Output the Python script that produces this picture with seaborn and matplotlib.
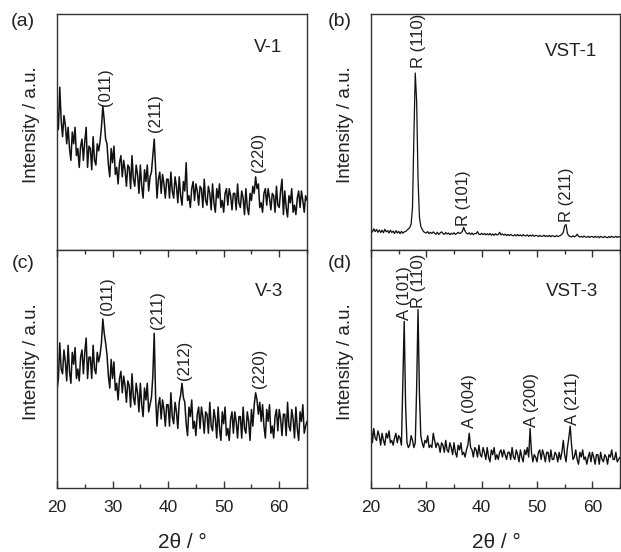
import numpy as np
import matplotlib.pyplot as plt
import seaborn as sns

# XRD scan grid (2theta, degrees), 0.25 deg step
two_theta = np.arange(20, 65.001, 0.25)

# intensities (arbitrary units, 0-100 per panel)
v1 = [
    60, 51, 69, 55, 48, 57, 53, 45, 52, 43, 38, 50, 45, 52, 40, 43,
    35, 44, 47, 38, 46, 52, 35, 44, 43, 34, 48, 38, 36, 45, 42, 46,
    52, 61, 55, 47, 45, 36, 31, 43, 37, 44, 32, 35, 28, 37, 40, 31,
    38, 34, 27, 36, 35, 26, 40, 30, 27, 36, 32, 24, 36, 27, 22, 34,
    29, 36, 25, 31, 33, 40, 47, 34, 22, 30, 33, 24, 32, 28, 22, 30,
    30, 22, 33, 25, 22, 31, 27, 20, 31, 23, 19, 29, 25, 37, 21, 23,
    18, 26, 29, 21, 28, 25, 19, 27, 26, 18, 30, 21, 19, 27, 24, 17,
    28, 20, 16, 26, 22, 28, 18, 21, 16, 24, 26, 19, 26, 23, 17, 24,
    24, 17, 28, 20, 18, 25, 22, 15, 26, 18, 15, 24, 21, 27, 24, 31,
    26, 28, 18, 20, 16, 24, 26, 19, 26, 22, 17, 24, 23, 16, 27, 19,
    18, 25, 30, 15, 25, 18, 14, 23, 20, 26, 16, 19, 15, 22, 25, 18,
    25, 21, 16, 23, 21,
]
vst1 = [
    8.6, 7.6, 9.0, 7.8, 8.7, 7.5, 8.5, 7.4, 8.4, 7.3, 8.8, 7.7, 8.2, 7.2, 8.4, 7.4,
    8.0, 7.0, 8.2, 7.2, 7.9, 6.9, 7.9, 7.1, 7.7, 7.8, 8.4, 8.9, 9.5, 11, 18, 48,
    75, 63, 30, 14, 10, 8.8, 7.8, 7.4, 7.2, 7.8, 6.9, 7.5, 7.0, 7.7, 7.1, 6.7,
    7.5, 6.6, 7.2, 7.7, 7.0, 6.6, 7.4, 6.8, 7.2, 6.5, 7.1, 6.7, 7.3, 6.6, 7.0, 7.5,
    7.0, 7.2, 7.9, 9.6, 8.0, 7.1, 6.8, 7.3, 6.6, 7.2, 6.5, 7.0, 6.9, 7.8, 6.7, 6.5,
    7.1, 6.5, 7.0, 6.4, 6.9, 6.4, 7.0, 6.3, 6.8, 6.2, 6.9, 6.4, 6.6, 7.5, 6.4, 6.8,
    6.3, 6.7, 6.1, 6.6, 6.1, 6.6, 6.2, 6.0, 6.5, 6.0, 6.6, 6.0, 6.4, 5.9, 6.5, 6.1,
    6.0, 6.4, 5.8, 6.3, 5.9, 6.4, 5.8, 6.2, 6.1, 5.7, 6.2, 5.8, 5.8, 6.3, 5.7, 6.1,
    5.7, 6.2, 5.6, 6.1, 5.9, 5.6, 6.1, 5.7, 5.9, 6.2, 6.6, 7.5, 10.2, 10.8, 7.0, 6.0,
    5.8, 5.5, 6.0, 5.6, 5.9, 6.7, 5.8, 5.5, 5.8, 5.4, 5.9, 5.5, 5.4, 5.8, 5.3, 5.7,
    5.7, 5.3, 5.8, 5.4, 5.7, 5.2, 5.8, 5.4, 5.3, 5.8, 5.4, 5.2, 5.7, 5.3, 5.8, 5.4,
    5.4, 5.8, 5.3, 5.7, 5.6,
]
v3 = [
    41, 46, 61, 50, 48, 58, 53, 45, 60, 49, 44, 57, 52, 59, 46, 50,
    45, 55, 58, 48, 57, 63, 46, 55, 55, 46, 60, 50, 48, 57, 53, 56,
    61, 71, 65, 61, 56, 47, 42, 54, 46, 53, 41, 44, 37, 46, 49, 40,
    47, 43, 36, 45, 43, 34, 48, 38, 35, 44, 40, 32, 44, 35, 30, 42,
    37, 44, 32, 35, 38, 47, 65, 38, 26, 35, 38, 29, 37, 33, 26, 35,
    35, 26, 40, 30, 27, 36, 32, 25, 36, 39, 44, 38, 36, 27, 22, 34,
    30, 37, 25, 28, 22, 31, 34, 25, 34, 30, 23, 32, 31, 23, 36, 26,
    24, 33, 29, 21, 34, 25, 20, 32, 27, 34, 22, 25, 20, 29, 32, 23,
    32, 28, 21, 30, 30, 21, 34, 25, 23, 32, 28, 20, 33, 26, 35, 40,
    37, 31, 36, 28, 35, 26, 21, 33, 28, 35, 23, 26, 21, 30, 33, 24,
    33, 29, 22, 31, 31, 22, 36, 26, 24, 33, 29, 21, 34, 25, 20, 32,
    28, 35, 23, 26, 28,
]
vst3 = [
    27, 19, 25, 21, 20, 24, 22, 18, 23, 20, 18, 23, 21, 24, 19, 20,
    18, 21, 23, 19, 22, 21, 18, 45, 70, 35, 19, 17, 18, 22, 20, 17,
    19, 42, 75, 40, 22, 19, 17, 20, 19, 22, 17, 18, 17, 23, 20, 17,
    19, 18, 15, 19, 18, 15, 20, 16, 15, 19, 17, 14, 19, 15, 13, 18,
    16, 19, 14, 15, 13, 16, 18, 23, 17, 16, 13, 17, 16, 13, 18, 14,
    13, 17, 15, 12, 17, 13, 11, 16, 14, 17, 12, 14, 12, 15, 16, 13,
    16, 14, 12, 15, 15, 12, 17, 13, 12, 16, 14, 11, 16, 13, 11, 16,
    14, 17, 13, 25, 15, 11, 14, 13, 11, 15, 16, 12, 16, 14, 11, 15,
    15, 11, 16, 12, 12, 15, 14, 11, 15, 12, 15, 20, 14, 11, 17, 21,
    26, 18, 12, 13, 16, 12, 10, 15, 13, 16, 12, 13, 10, 13, 15, 11,
    15, 13, 10, 14, 14, 10, 15, 12, 11, 14, 13, 10, 14, 13, 16, 12,
    12, 15, 11, 12, 13,
]

samples = ["V-1", "VST-1", "V-3", "VST-3"]

# peak labels: (text, 2theta, intensity at label foot)
peaks_v1 = [("(011)", 28.8, 61), ("(211)", 37.8, 50), ("(220)", 56.2, 33)]
peaks_vst1 = [("R (110)", 28.5, 77), ("R (101)", 36.8, 10), ("R (211)", 55.3, 12)]
peaks_v3 = [("(011)", 29.0, 72.5), ("(211)", 38.0, 67), ("(212)", 42.9, 45.5), ("(220)", 56.4, 42)]
peaks_vst3 = [("A (101)", 26.1, 70.5), ("R (110)", 28.5, 75.5), ("A (004)", 37.8, 25.2),
              ("A (200)", 49.0, 25.6), ("A (211)", 56.4, 26.5)]

sns.set_theme(style="white")
plt.rcParams["font.family"] = ["Liberation Sans", "DejaVu Sans"]
plt.rcParams.update({
    "axes.edgecolor": "#333333",
    "axes.linewidth": 1.0,
    "xtick.color": "#333333",
    "text.color": "#222222",
    "axes.labelcolor": "#222222",
    "xtick.labelcolor": "#222222",
})

W, H = 621, 552
fig = plt.figure(figsize=(W / 100, H / 100), dpi=100)


def px_axes(x0, y0, x1, y1):
    return fig.add_axes([x0 / W, 1 - y1 / H, (x1 - x0) / W, (y1 - y0) / H])


axes = [
    px_axes(57, 14, 307, 250),
    px_axes(371, 14, 620, 250),
    px_axes(57, 250, 307, 488),
    px_axes(371, 250, 620, 488),
]
series = [v1, vst1, v3, vst3]
line_w = [1.1, 0.9, 1.1, 1.0]
peak_sets = [peaks_v1, peaks_vst1, peaks_v3, peaks_vst3]
sample_pos = [(0.844, 0.86), (0.803, 0.84), (0.848, 0.824), (0.807, 0.824)]

for i, ax in enumerate(axes):
    sns.lineplot(x=two_theta, y=series[i], ax=ax, color="#111111",
                 linewidth=line_w[i], estimator=None)
    ax.set_xlim(20, 65)
    ax.set_ylim(0, 100)
    ax.set_yticks([])
    ax.set_xticks([20, 30, 40, 50, 60])
    ax.set_xticks([25, 35, 45, 55, 65], minor=True)
    bottom_row = i >= 2
    ax.tick_params(axis="x", which="both", direction="in", top=bottom_row,
                   bottom=bottom_row, labelbottom=bottom_row, labelsize=12.5, pad=9)
    ax.tick_params(axis="x", which="major", length=5, width=1.0)
    ax.tick_params(axis="x", which="minor", length=3, width=1.0)
    ax.set_ylabel("Intensity / a.u.", fontsize=13.5)
    ax.yaxis.set_label_coords(-0.07, 0.53)
    ax.set_xlabel("")
    ax.text(*sample_pos[i], samples[i], transform=ax.transAxes,
            ha="center", va="center", fontsize=13.5)
    for label, xpos, ypos in peak_sets[i]:
        ax.text(xpos, ypos, label, rotation=90, ha="center", va="bottom",
                fontsize=12)

fig.text(23 / W, 1 - 21 / H, "(a)", ha="center", va="center", fontsize=14)
fig.text(340 / W, 1 - 22 / H, "(b)", ha="center", va="center", fontsize=14)
fig.text(23 / W, 1 - 263 / H, "(c)", ha="center", va="center", fontsize=14)
fig.text(340 / W, 1 - 264 / H, "(d)", ha="center", va="center", fontsize=14)
fig.text(182 / W, 1 - 542 / H, "2θ / °", ha="center", va="center", fontsize=15)
fig.text(496 / W, 1 - 542 / H, "2θ / °", ha="center", va="center", fontsize=15)

fig.savefig("out.png", dpi=100, facecolor="white")
